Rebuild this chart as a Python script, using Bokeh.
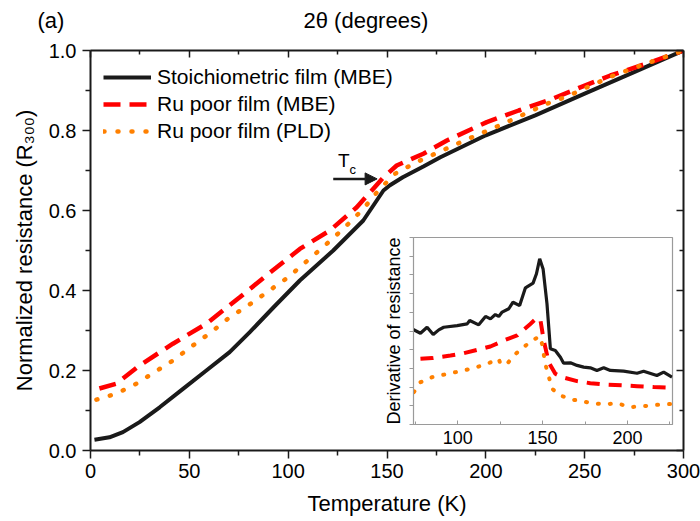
from bokeh.plotting import figure
from bokeh.models import (Range1d, LinearAxis, FixedTicker, Legend, LegendItem,
                          Label, Arrow, NormalHead, CustomLabelingPolicy)
from bokeh.embed import file_html
from bokeh.resources import INLINE

# ---------------- data: main panel ----------------
stoich_T = [2, 9.6, 16.4, 24.8, 35, 46.8, 58.6, 70.4, 80.6, 93, 105.9, 122.8, 138,
            144.8, 148.2, 151.5, 158, 168.4, 177, 200, 225, 250, 275, 300]
stoich_R = [0.027, 0.033, 0.046, 0.071, 0.108, 0.154, 0.200, 0.246, 0.296, 0.360,
            0.425, 0.500, 0.575, 0.625, 0.650, 0.663, 0.683, 0.710, 0.733, 0.788,
            0.838, 0.892, 0.946, 1.0]

rupoor_mbe_T = [4.5, 13, 24.8, 41.7, 58.6, 75.5, 89, 105.9, 121.1, 134.7, 148.2, 154.9,
                168.4, 180.3, 200.5, 216.6, 232.6, 247.8, 263, 280, 300]
rupoor_mbe_R = [0.155, 0.167, 0.2125, 0.267, 0.317, 0.383, 0.4375, 0.504, 0.550, 0.608,
                0.683, 0.7125, 0.742, 0.775, 0.821, 0.850, 0.877, 0.908, 0.9375, 0.965, 1.0]

rupoor_pld_T = [3, 13, 23.2, 32.4, 41.7, 51.8, 61.1, 70.4, 79.7, 100, 118.6, 128.7, 138,
                145.6, 154.1, 165, 174.4, 183.6, 192.9, 203, 212.4, 221.7, 231, 241.1,
                251.2, 264.7, 278.3, 300]
rupoor_pld_R = [0.127, 0.142, 0.167, 0.196, 0.225, 0.2625, 0.296, 0.333, 0.3625, 0.433,
                0.5125, 0.558, 0.604, 0.650, 0.692, 0.721, 0.742, 0.7625, 0.783, 0.804,
                0.825, 0.846, 0.867, 0.885, 0.908, 0.9375, 0.9625, 1.0]

series_labels = ["Stoichiometric film (MBE)", "Ru poor film (MBE)", "Ru poor film (PLD)"]

x_ticks = [0, 50, 100, 150, 200, 250, 300]
x_tick_labels = ["0", "50", "100", "150", "200", "250", "300"]
x_minor = [25, 75, 125, 175, 225, 275]
y_ticks = [0.0, 0.2, 0.4, 0.6, 0.8, 1.0]
y_tick_labels = ["0.0", "0.2", "0.4", "0.6", "0.8", "1.0"]
y_minor = [0.1, 0.3, 0.5, 0.7, 0.9]

tc_arrow_T = [122.8, 145.0]
tc_arrow_R = 0.679

# ---------------- data: inset ----------------
d_stoich_T = [73.8, 78.1, 82.0, 85.6, 88.9, 91.8, 99.7, 105.6, 107.1, 112.4, 116.4, 119.3,
              122.2, 124.2, 126.2, 130.1, 132.6, 136.5, 139.9, 144.4, 146.4, 148.3, 150.3,
              152.6, 154.6, 157.5, 160.5, 162.4, 166.4, 170.3, 174.2, 178.1, 182, 186,
              189.9, 197.7, 205.6, 209.5, 217.3, 221.3, 226.2]
d_stoich_v = [5.08, 4.88, 5.20, 4.81, 5.06, 5.20, 5.29, 5.38, 5.56, 5.33, 5.78, 5.65,
              5.88, 5.78, 6.01, 6.19, 6.54, 6.36, 7.31, 7.56, 8.06, 8.86, 8.32,
              6.45, 4.05, 3.96, 3.60, 3.28, 3.30, 3.16, 3.07, 3.03, 2.89, 3.03,
              2.89, 2.85, 2.74, 2.85, 2.62, 2.80, 2.53]

d_mbe_T = [78.1, 85.0, 95.8, 103.6, 111.5, 119.3, 127.1, 135, 142.8, 146.7, 148.7, 150.7,
           153.6, 157.5, 161.5, 170.3, 178.1, 186, 197.7, 205.6, 215.4, 226.2]
d_mbe_v = [3.51, 3.55, 3.69, 3.81, 3.99, 4.17, 4.49, 4.76, 5.38, 5.70, 5.60, 4.49,
           3.33, 2.71, 2.53, 2.32, 2.21, 2.14, 2.09, 2.05, 2.00, 1.96]

d_pld_T = [74.2, 78.1, 85.0, 95.8, 103.6, 111.5, 118.3, 124.2, 125.2, 129.1, 133, 138.9,
           143.8, 148.3, 149.7, 151.6, 155.6, 160.5, 168.3, 176.2, 186, 193.8, 201.6,
           209.5, 217.3, 226.2]
d_pld_v = [1.73, 2.26, 2.53, 2.74, 2.89, 3.07, 3.28, 3.51, 3.24, 3.24, 3.69, 4.14,
           4.49, 4.71, 4.31, 3.24, 1.91, 1.55, 1.32, 1.19, 1.07, 1.14, 0.93,
           0.98, 1.05, 1.10]

inset_x_ticks = [100, 150, 200]
inset_x_tick_labels = ["100", "150", "200"]
inset_x_minor = [75, 125, 175, 225]
inset_y_ticks = [0, 1, 2, 3, 4, 5, 6, 7, 8, 9, 10]

FONT = "Liberation Sans"
BLACK = "#1a1a1a"
RED = "#ff0000"
ORANGE = "#ff8000"

HIDE_CODE = "const all = [...indices]; for (const i of all) { indices.unset(i) } return indices"

# ---------------- main figure ----------------
p = figure(width=700, height=521, output_backend="svg", toolbar_location=None,
           x_range=Range1d(0, 300), y_range=Range1d(0, 1.0),
           min_border_left=90, min_border_right=17, min_border_top=50,
           min_border_bottom=71, x_axis_location=None, y_axis_location=None)
p.grid.visible = False
p.outline_line_color = None
p.background_fill_color = "white"
p.border_fill_color = "white"


def style_axis(ax, ticks, minor, labels, show_labels, inward):
    ax.ticker = FixedTicker(ticks=ticks, minor_ticks=minor)
    ax.axis_line_width = 2
    ax.axis_line_color = BLACK
    ax.major_tick_line_width = 1.5
    ax.minor_tick_line_width = 1.5
    ax.major_tick_line_color = BLACK
    ax.minor_tick_line_color = BLACK
    if inward:
        ax.major_tick_in, ax.major_tick_out = 7, 0
        ax.minor_tick_in, ax.minor_tick_out = 4, 0
    else:
        ax.major_tick_in, ax.major_tick_out = 0, 8
        ax.minor_tick_in, ax.minor_tick_out = 0, 5
    ax.major_label_text_font = FONT
    ax.major_label_text_color = "black"
    if show_labels:
        ax.major_label_overrides = dict(zip(ticks, labels))
        ax.major_label_text_font_size = "20px"
        ax.major_label_standoff = 5
    else:
        ax.major_label_policy = CustomLabelingPolicy(code=HIDE_CODE)
        ax.major_label_text_font_size = "0px"
        ax.major_label_standoff = 0
    ax.axis_label_text_font = FONT
    ax.axis_label_text_font_style = "normal"
    ax.axis_label_text_font_size = "22px"
    ax.axis_label_text_color = "black"


xb = LinearAxis(axis_label="Temperature (K)")
style_axis(xb, x_ticks, x_minor, x_tick_labels, True, False)
xb.axis_label_standoff = 10
p.add_layout(xb, "below")

yl = LinearAxis(axis_label="Normalized resistance (R\u2083\u2080\u2080)")
style_axis(yl, y_ticks, y_minor, y_tick_labels, True, False)
yl.major_label_standoff = 6
yl.axis_label_standoff = 9
p.add_layout(yl, "left")

xt = LinearAxis()
style_axis(xt, x_ticks, x_minor, x_tick_labels, False, True)
p.add_layout(xt, "above")

yr = LinearAxis()
style_axis(yr, y_ticks, y_minor, y_tick_labels, False, True)
p.add_layout(yr, "right")

r1 = p.line(stoich_T, stoich_R, line_color=BLACK, line_width=4)
r2 = p.line(rupoor_mbe_T, rupoor_mbe_R, line_color=RED, line_width=4.5,
            line_dash="17 9")
r3 = p.line(rupoor_pld_T, rupoor_pld_R, line_color=ORANGE, line_width=4.5,
            line_dash="1 13", line_cap="round")

legend = Legend(items=[LegendItem(label=series_labels[0], renderers=[r1]),
                       LegendItem(label=series_labels[1], renderers=[r2]),
                       LegendItem(label=series_labels[2], renderers=[r3])],
                location=(13, 307), label_text_font=FONT, label_text_font_size="21px",
                label_text_color="black", glyph_width=48, glyph_height=20,
                label_height=20, spacing=3, padding=7, margin=0, label_standoff=6,
                border_line_color=None, background_fill_alpha=0)
p.add_layout(legend)

# Tc arrow and label
p.add_layout(Arrow(x_start=tc_arrow_T[0], y_start=tc_arrow_R, x_end=tc_arrow_T[1],
                   y_end=tc_arrow_R, line_color=BLACK, line_width=2.5,
                   end=NormalHead(size=12, fill_color=BLACK, line_color=BLACK)))
p.add_layout(Label(x=125.2, y=0.725, text="T", text_font=FONT,
                   text_font_size="19px", text_color="black", text_baseline="alphabetic"))
p.add_layout(Label(x=131.0, y=0.702, text="c", text_font=FONT,
                   text_font_size="13px", text_color="black", text_baseline="alphabetic"))

# ---------------- header texts: "(a)" and the stray top caption ----------------
fa = figure(width=440, height=40, output_backend="svg", toolbar_location=None,
            x_range=Range1d(0, 440), y_range=Range1d(0, 40), min_border=0,
            x_axis_location=None, y_axis_location=None,
            styles={"position": "absolute", "left": "30px", "top": "0px"})
fa.grid.visible = False
fa.outline_line_color = None
fa.background_fill_alpha = 0
fa.border_fill_alpha = 0
fa.add_layout(Label(x=7, y=20, text="(a)", text_font=FONT, text_font_size="22px",
                    text_color="black", text_baseline="alphabetic"))
fa.add_layout(Label(x=273, y=20, text="2\u03b8 (degrees)", text_font=FONT,
                    text_font_size="22px", text_color="black",
                    text_baseline="alphabetic"))

# ---------------- inset figure ----------------
GRAY = "#9a9a9a"
ins = figure(width=312, height=232, output_backend="svg", toolbar_location=None,
             x_range=Range1d(74, 226.5), y_range=Range1d(0, 10),
             min_border_left=45, min_border_right=8, min_border_top=11,
             min_border_bottom=34, x_axis_location=None, y_axis_location=None,
             styles={"position": "absolute", "left": "368px", "top": "226px"})
ins.grid.visible = False
ins.background_fill_color = "white"
ins.border_fill_color = None
ins.outline_line_color = GRAY
ins.outline_line_width = 1.2

ixb = LinearAxis()
ixb.ticker = FixedTicker(ticks=inset_x_ticks, minor_ticks=inset_x_minor)
ixb.major_label_overrides = dict(zip(inset_x_ticks, inset_x_tick_labels))
ixb.major_label_text_font = FONT
ixb.major_label_text_font_size = "18px"
ixb.major_label_text_color = "black"
ixb.major_label_standoff = 6
ixb.axis_line_color = GRAY
ixb.major_tick_line_color = GRAY
ixb.minor_tick_line_color = GRAY
ixb.major_tick_in, ixb.major_tick_out = 4, 0
ixb.minor_tick_in, ixb.minor_tick_out = 3, 0
ins.add_layout(ixb, "below")

iyl = LinearAxis(axis_label="Derivative of resistance")
iyl.ticker = FixedTicker(ticks=inset_y_ticks, minor_ticks=[])
iyl.major_label_policy = CustomLabelingPolicy(code=HIDE_CODE)
iyl.major_label_text_font_size = "0px"
iyl.major_label_standoff = 0
iyl.axis_line_color = GRAY
iyl.major_tick_line_color = GRAY
iyl.major_tick_in, iyl.major_tick_out = 0, 4
iyl.axis_label_text_font = FONT
iyl.axis_label_text_font_style = "normal"
iyl.axis_label_text_font_size = "18px"
iyl.axis_label_text_color = "black"
iyl.axis_label_standoff = 6
ins.add_layout(iyl, "left")

ins.line(d_stoich_T, d_stoich_v, line_color=BLACK, line_width=3.2)
ins.line(d_mbe_T, d_mbe_v, line_color=RED, line_width=4, line_dash="13 9")
ins.line(d_pld_T, d_pld_v, line_color=ORANGE, line_width=4, line_dash="1 11",
         line_cap="round")

open("out.html", "w").write(file_html([p, ins, fa], INLINE))
